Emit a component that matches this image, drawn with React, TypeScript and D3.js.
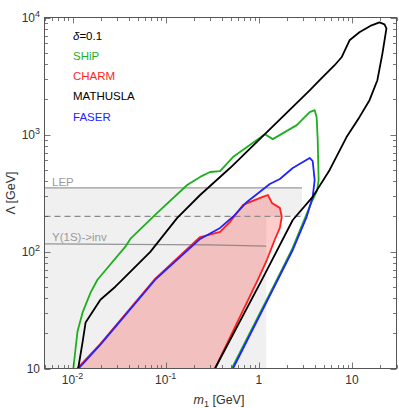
import React from 'react';
import * as d3 from 'd3';

const W = 399;
const H = 408;
const plot = { left: 44.5, right: 396.5, top: 17.5, bottom: 368.5 };

const xDomain: [number, number] = [0.005, 30];
const yDomain: [number, number] = [10, 10000];

// contours: [m1 in GeV, Lambda in GeV]
const ship: [number, number][] = [
  [0.0102, 10], [0.0113, 20.7], [0.0128, 30], [0.0156, 44.5], [0.0185, 57.4],
  [0.0369, 110], [0.0417, 128], [0.081, 214], [0.17, 370], [0.234, 434],
  [0.299, 478], [0.383, 487], [0.527, 642], [0.8, 812], [1.16, 1007],
  [1.41, 913], [2.55, 1202], [3.51, 1552], [3.97, 1614], [4.17, 1407],
  [4.28, 895], [4.38, 408], [4.2, 330], [3.66, 262], [2.25, 103],
  [1.56, 57.4], [0.512, 10],
];

const charm: [number, number][] = [
  [0.0112, 10], [0.02, 16.3], [0.0753, 57.4], [0.234, 133], [0.383, 147],
  [0.49, 179], [0.674, 250], [1.1, 293], [1.25, 304], [1.38, 260],
  [1.68, 236], [1.76, 198], [1.68, 159], [1.48, 126], [1.22, 85],
  [0.976, 57.4], [0.338, 10],
];

const mathusla: [number, number][] = [
  [0.0115, 10], [0.0128, 16.7], [0.0138, 24.7], [0.0199, 38.7], [0.0288, 50],
  [0.0343, 57.4], [0.0683, 99.3], [0.133, 194], [0.234, 304], [0.49, 517],
  [3.51, 2388], [4.49, 2911], [6.5, 3909], [7.72, 4571], [9.4, 6383],
  [12.0, 7470], [16.2, 8570], [19.7, 9080], [22.3, 8730], [23.4, 8070],
  [21.2, 4944], [18.7, 2911], [15.4, 1964], [12.0, 1407], [8.73, 951],
  [5.75, 498], [3.78, 293], [2.31, 186], [1.08, 57.4], [0.338, 10],
];

const faser: [number, number][] = [
  [0.0116, 10], [0.0199, 16.0], [0.0772, 57.4], [0.234, 128], [0.383, 159],
  [0.527, 198], [0.744, 265], [1.31, 378], [1.68, 417], [2.31, 517],
  [3.51, 630], [3.78, 593], [3.97, 408], [3.78, 293], [3.26, 198],
  [2.31, 103], [1.6, 57.4], [0.527, 10],
];

// excluded region (light grey) and bounds
const greyRegion: [number, number][] = [
  [0.005, 10], [0.005, 350], [2.9, 350], [2.9, 200], [1.2, 200], [1.2, 10],
];
const lepLine: [number, number][] = [[0.005, 350], [2.9, 350]];
const dashLine: [number, number][] = [[0.005, 200], [2.9, 200]];
const upsilonLine: [number, number][] = [[0.005, 116], [0.3, 114], [1.2, 111]];

const legend = [
  { label: 'SHiP', color: '#1fae1f' },
  { label: 'CHARM', color: '#ff1f1f' },
  { label: 'MATHUSLA', color: '#000000' },
  { label: 'FASER', color: '#2323ff' },
];

const xMajor = [0.01, 0.1, 1, 10];
const xMajorLabels = [['10', '-2'], ['10', '-1'], ['1', ''], ['10', '']];
const yMajor = [10, 100, 1000, 10000];
const yMajorLabels = [['10', ''], ['10', '2'], ['10', '3'], ['10', '4']];

const font = '"Liberation Sans", Arial, sans-serif';

export default function App() {
  const x = d3.scaleLog().domain(xDomain).range([plot.left, plot.right]);
  const y = d3.scaleLog().domain(yDomain).range([plot.bottom, plot.top]);
  const line = d3.line<[number, number]>().x(d => x(d[0])).y(d => y(d[1]));

  const isMajor = (v: number) => Math.abs(Math.log10(v) - Math.round(Math.log10(v))) < 1e-9;
  const xTicks = x.ticks();
  const yTicks = y.ticks();
  const frame = '#555';

  return (
    <svg width={W} height={H} style={{ position: 'absolute', left: 0, top: 0 }} fontFamily={font}>
      <defs>
        <clipPath id="plotClip">
          <rect x={plot.left} y={plot.top} width={plot.right - plot.left} height={plot.bottom - plot.top} />
        </clipPath>
      </defs>
      <rect width={W} height={H} fill="#fff" />

      <g clipPath="url(#plotClip)">
        <path d={line(greyRegion) + 'Z'} fill="#f0f0f0" />
        <path d={line(charm) + 'Z'} fill="rgba(255,0,0,0.2)" />
        <path d={line(lepLine)!} fill="none" stroke="#9a9a9a" strokeWidth={1.2} />
        <path d={line(dashLine)!} fill="none" stroke="#8a8a8a" strokeWidth={1.2} strokeDasharray="6,4" />
        <path d={line(upsilonLine)!} fill="none" stroke="rgba(110,110,110,0.7)" strokeWidth={1.2} />
        <path d={line(charm)!} fill="none" stroke="#ff1f1f" strokeWidth={1.8} strokeLinejoin="round" />
        <path d={line(ship)!} fill="none" stroke="#1fae1f" strokeWidth={1.8} strokeLinejoin="round" />
        <path d={line(faser)!} fill="none" stroke="#2323ff" strokeWidth={1.8} strokeLinejoin="round" />
        <path d={line(mathusla)!} fill="none" stroke="#000" strokeWidth={1.8} strokeLinejoin="round" />
      </g>

      <text x={52} y={186} fontSize={11.5} fill="#9a9a9a">LEP</text>
      <text x={52} y={241} fontSize={11.5} fill="#9a9a9a">Y(1S)-&gt;inv</text>

      {/* legend */}
      <text x={73} y={40} fontSize={11.5} fill="#000">
        <tspan fontStyle="italic">δ</tspan>=0.1
      </text>
      {legend.map((l, i) => (
        <text key={l.label} x={73} y={60 + i * 20.2} fontSize={11.5} fill={l.color}>{l.label}</text>
      ))}

      {/* frame */}
      <rect x={plot.left} y={plot.top} width={plot.right - plot.left} height={plot.bottom - plot.top}
        fill="none" stroke={frame} strokeWidth={1} />

      {/* x ticks (bottom + top, inside) */}
      {xTicks.map((t, i) => {
        const len = isMajor(t) ? 6 : 3.5;
        const px = Math.round(x(t)) + 0.5;
        return (
          <g key={'xt' + i} stroke={frame} strokeWidth={0.8}>
            <line x1={px} x2={px} y1={plot.bottom} y2={plot.bottom - len} />
            <line x1={px} x2={px} y1={plot.top} y2={plot.top + len} />
          </g>
        );
      })}
      {/* y ticks (left + right, inside) */}
      {yTicks.map((t, i) => {
        const len = isMajor(t) ? 6 : 3.5;
        const py = Math.round(y(t)) + 0.5;
        return (
          <g key={'yt' + i} stroke={frame} strokeWidth={0.8}>
            <line x1={plot.left} x2={plot.left + len} y1={py} y2={py} />
            <line x1={plot.right} x2={plot.right - len} y1={py} y2={py} />
          </g>
        );
      })}

      {xMajor.map((t, i) => (
        <text key={'xl' + i} x={x(t)} y={384} fontSize={12} fill="#333" textAnchor="middle">
          {xMajorLabels[i][0]}
          {xMajorLabels[i][1] && <tspan dy={-5} fontSize={9}>{xMajorLabels[i][1]}</tspan>}
        </text>
      ))}
      {yMajor.map((t, i) => (
        <text key={'yl' + i} x={yMajorLabels[i][1] ? 35 : 40} y={y(t) + 4.5} fontSize={12} fill="#333" textAnchor="end">
          {yMajorLabels[i][0]}
          {yMajorLabels[i][1] && <tspan x={40} dy={-5} fontSize={9} textAnchor="end">{yMajorLabels[i][1]}</tspan>}
        </text>
      ))}

      {/* axis titles */}
      <text transform="translate(15,193) rotate(-90)" fontSize={12.5} fill="#333" textAnchor="middle">Λ [GeV]</text>
      <text x={219} y={404} fontSize={12.5} fill="#333" textAnchor="middle">
        <tspan fontStyle="italic">m</tspan><tspan fontSize={9} dy={3}>1</tspan><tspan dy={-3}> [GeV]</tspan>
      </text>
    </svg>
  );
}
